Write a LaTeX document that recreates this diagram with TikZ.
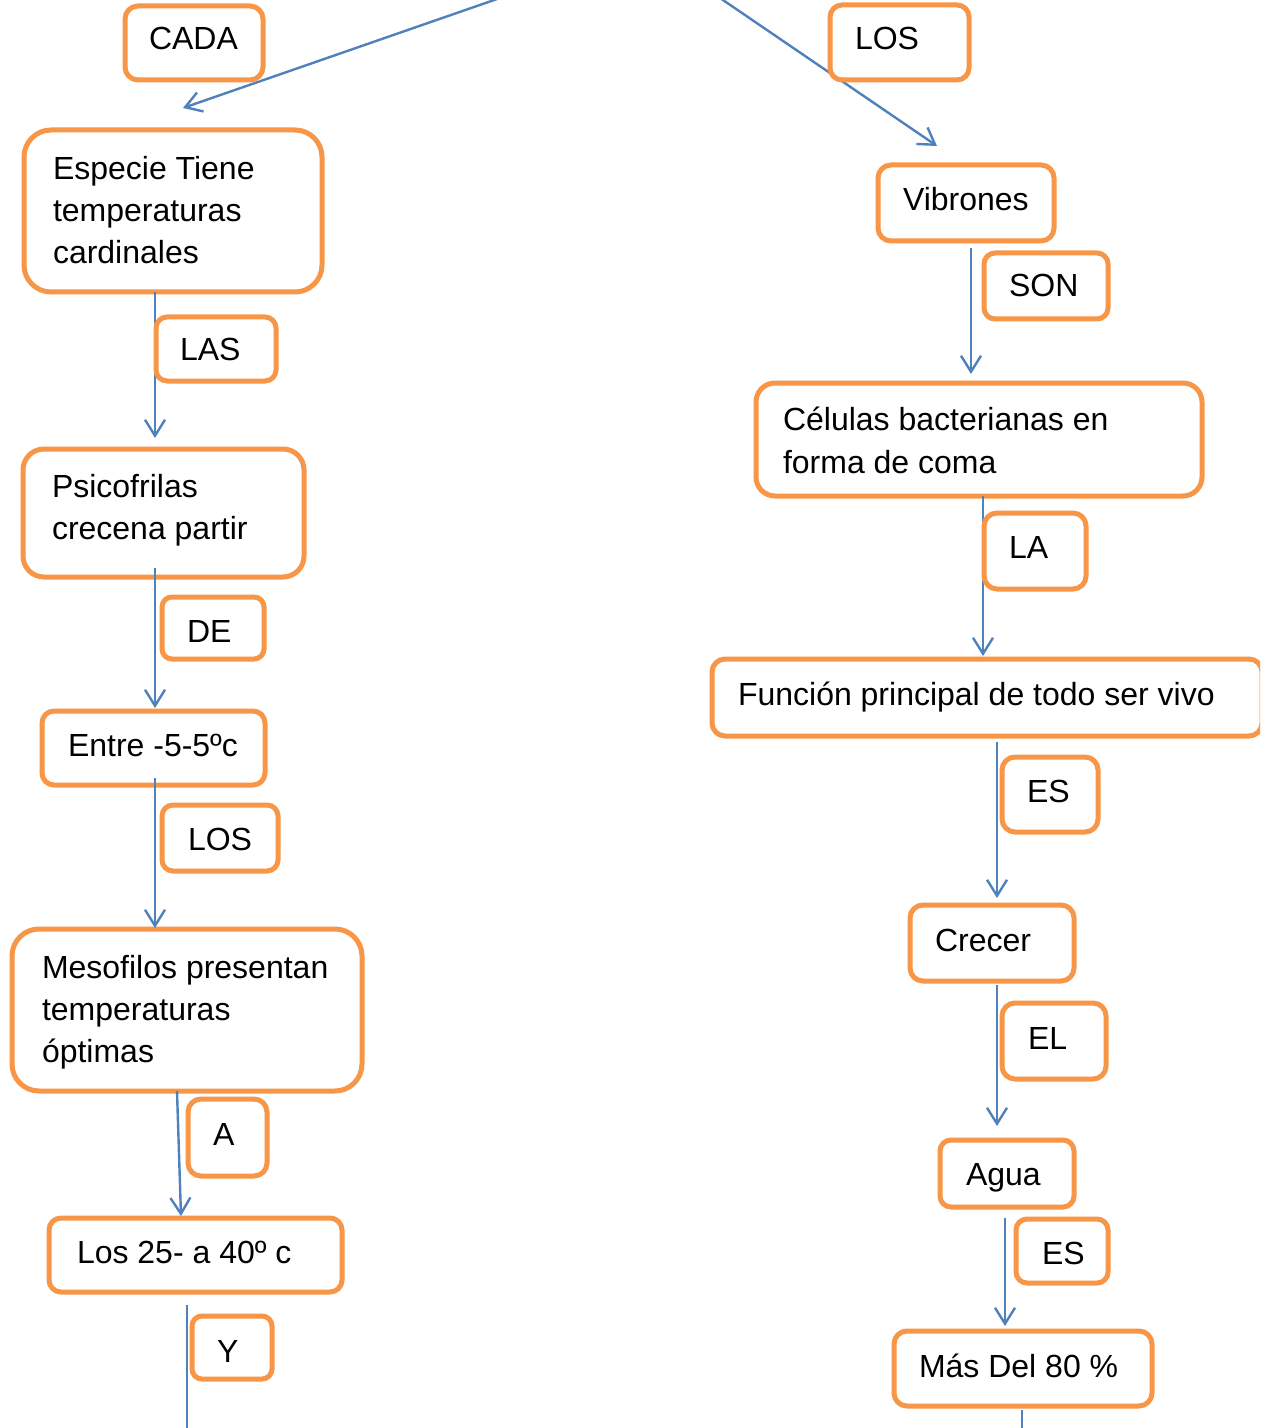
\documentclass[tikz,border=0pt]{standalone}
\usepackage{fontspec}
\setmainfont{Liberation Sans}
\usetikzlibrary{arrows.meta,calc}
\definecolor{boxorange}{HTML}{F79646}
\definecolor{lineblue}{HTML}{4F81BD}
\newcommand{\mybox}[6]{\node[obox, rounded corners={#6*0.5pt}, minimum width={(#4-#2)*0.5pt}, minimum height={(#5-#3)*0.5pt}] (#1) at ({(#2+#4)/2},{(#3+#5)/2}) {};}
\begin{document}
\begin{tikzpicture}[x=0.5pt,y=-0.5pt,
  obox/.style={draw=boxorange, line width=2.5pt, fill=white, inner sep=0pt, outer sep=0pt},
  txt/.style={inner sep=0pt, outer sep=0pt, anchor=base west, align=left, font=\fontsize{16pt}{21pt}\selectfont},
  arr/.style={draw=lineblue, line width=1.2pt, -{Straight Barb[length=8pt,width=10pt,line width=1.2pt]}},
  plain/.style={draw=lineblue, line width=1.2pt}]
\clip (0,0) rectangle (1260,1428);
\fill[white] (0,0) rectangle (1260,1428);
% coordinates for connector columns
\coordinate (cL1) at (155,0);
\coordinate (cR1) at (971,0);
\coordinate (cR2) at (983,0);
\coordinate (cR3) at (997,0);
\coordinate (cR4) at (1005,0);
\coordinate (cR5) at (1022,0);
\coordinate (topL) at (500,-2);
\coordinate (tipL) at (183,108);
\coordinate (topR) at (720,-2);
\coordinate (tipR) at (937,146);
\coordinate (mesoOut) at (177,1091);
\coordinate (l25In) at (181,1216);
\coordinate (l25Out) at (187,1305);
\coordinate (botL) at (187,1430);
\coordinate (botR) at (1022,1430);

% top connectors (drawn first, boxes over them)
\draw[arr] (topL) -- (tipL);
\draw[arr] (topR) -- (tipR);

% left column boxes
\mybox{cada}{125}{6}{263}{80}{13}
\mybox{esp}{24}{130}{322}{292}{27}
\mybox{psi}{23}{449}{304}{577}{21}
\mybox{ent}{42}{711}{265}{785}{12}
\mybox{meso}{12}{929}{362}{1091}{27}
\mybox{lveinte}{49}{1218}{342}{1292}{12}

% right column boxes
\mybox{losR}{830}{5}{969}{80}{12}
\mybox{vib}{878}{165}{1054}{241}{13}
\mybox{cel}{756}{383}{1202}{496}{19}
\mybox{fun}{712}{659}{1262}{736}{13}
\mybox{cre}{910}{905}{1074}{981}{13}
\mybox{agu}{940}{1140}{1074}{1207}{11}
\mybox{mas}{894}{1331}{1152}{1406}{13}

% connectors
\draw[arr, shorten >=5.5pt] (esp.south -| cL1) -- (psi.north -| cL1);
\draw[arr, shorten <=-4.5pt, shorten >=1.5pt] (psi.south -| cL1) -- (ent.north -| cL1);
\draw[arr, shorten <=-3.5pt, shorten >=0.5pt] (ent.south -| cL1) -- (meso.north -| cL1);
\draw[arr] (mesoOut) -- (l25In);
\draw[plain] (l25Out) -- (botL);
\draw[arr, shorten <=3.5pt, shorten >=4.5pt] (vib.south -| cR1) -- (cel.north -| cR1);
\draw[arr, shorten >=1.5pt] (cel.south -| cR2) -- (fun.north -| cR2);
\draw[arr, shorten <=3pt, shorten >=3.5pt] (fun.south -| cR3) -- (cre.north -| cR3);
\draw[arr, shorten <=2pt, shorten >=7pt] (cre.south -| cR3) -- (agu.north -| cR3);
\draw[arr, shorten <=5.5pt, shorten >=2.5pt] (agu.south -| cR4) -- (mas.north -| cR4);
\draw[plain, shorten <=2pt] (mas.south -| cR5) -- (botR);

% link label boxes (drawn over connectors)
\mybox{las}{156}{317}{276}{381}{11}
\mybox{de}{162}{597}{264}{659}{10}
\mybox{losL}{162}{805}{278}{871}{11}
\mybox{a}{188}{1099}{267}{1176}{13}
\mybox{y}{192}{1316}{272}{1379}{10}
\mybox{son}{984}{253}{1108}{319}{11}
\mybox{la}{984}{513}{1086}{589}{13}
\mybox{esA}{1002}{757}{1098}{832}{13}
\mybox{el}{1002}{1003}{1106}{1079}{13}
\mybox{esB}{1016}{1219}{1108}{1283}{11}

% texts (multi-line nodes anchored at the baseline of their last line)
\node[txt] (tcada) at (149,50) {CADA};
\node[txt] (tesp) at (53,264) {Especie Tiene\\temperaturas\\cardinales};
\node[txt] (tlas) at (180,361) {LAS};
\node[txt] (tpsi) at (52,539) {Psicofrilas\\crecena partir};
\node[txt] (tde) at (187,642) {DE};
\node[txt] (tent) at (68,756) {Entre -5-5ºc};
\node[txt] (tlosL) at (188,850) {LOS};
\node[txt] (tmeso) at (42,1062) {Mesofilos presentan\\temperaturas\\óptimas};
\node[txt] (ta) at (213,1145) {A};
\node[txt] (tl25) at (77,1263) {Los 25- a 40º c};
\node[txt] (ty) at (217,1362) {Y};
\node[txt] (tlosR) at (855,50) {LOS};
\node[txt] (tvib) at (903,211) {Vibrones};
\node[txt] (tson) at (1009,297) {SON};
\node[txt] (tcel) at (783,473) {Células bacterianas en\\forma de coma};
\node[txt] (tla) at (1009,558) {LA};
\node[txt] (tfun) at (738,705) {Función principal de todo ser vivo};
\node[txt] (tesA) at (1027,802) {ES};
\node[txt] (tcre) at (935,951) {Crecer};
\node[txt] (tel) at (1028,1049) {EL};
\node[txt] (tagu) at (966,1185) {Agua};
\node[txt] (tesB) at (1042,1264) {ES};
\node[txt] (tmas) at (919,1377) {Más Del 80 \%};
\end{tikzpicture}
\end{document}
